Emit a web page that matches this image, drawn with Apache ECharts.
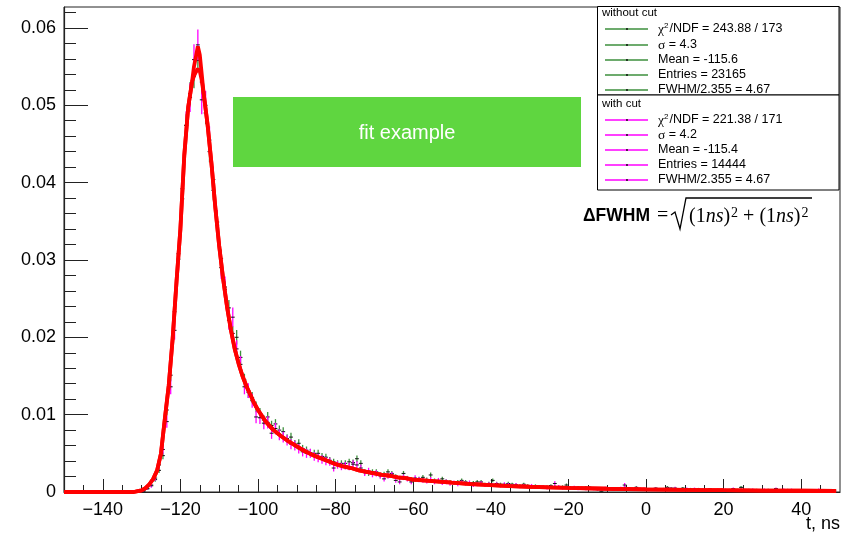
<!DOCTYPE html>
<html>
<head>
<meta charset="utf-8">
<script src="https://cdn.jsdelivr.net/npm/echarts/dist/echarts.min.js"></script>
<style>
html,body{margin:0;padding:0;background:#fff;}
#chart{width:853px;height:534px;}
</style>
</head>
<body>
<div id="chart"></div>
<script>
// ---------------- DATA ----------------
// histogram bins: 1 ns wide, first bin centre at -129.5 ns
const binStart = -129.5;
const binWidth = 1;

// "without cut" (green) normalised counts per bin
const greenValues = [
  0.0002,0.0004,0.0009,0.0016,0.0028,0.0047,0.0106,0.0151,0.0233,0.0308,
  0.0392,0.0474,0.0515,0.0537,0.0558,0.0530,0.0490,0.0440,0.0390,0.0345,
  0.0302,0.0262,0.0238,0.0205,0.0200,0.0174,0.0145,0.0129,0.0122,0.0110,
  0.0102,0.0093,0.0097,0.0086,0.0088,0.0080,0.0078,0.0069,0.0071,0.0062,
  0.0063,0.0056,0.0054,0.0051,0.0050,0.0050,0.0046,0.0045,0.0041,0.0039,
  0.0037,0.0037,0.0037,0.0039,0.0038,0.0043,0.0037,0.0026,0.0024,0.0026,
  0.0026,0.0022,0.0023,0.0026,0.0024,0.0020,0.0018,0.0024,0.0018,0.0016,
  0.0016,0.0017,0.0019,0.0016,0.0022,0.0015,0.0014,0.0017,0.0014,0.0013,
  0.0012,0.0013,0.0015,0.0013,0.0011,0.0012,0.0013,0.0013,0.0010,0.0011,
  0.0015,0.0011,0.0010,0.0009,0.0011,0.0010,0.0009,0.0008,0.0010,0.0008,
  0.0007,0.0008,0.0007,0.0006,0.0007,0.0008,0.0007,0.0006,0.0007,0.0009,
  0.0006,0.0005,0.0006,0.0005,0.0006,0.0006,0.0005,0.0004,0.0001,0.0004,
  0.0005,0.0004,0.0005,0.0004,0.0006,0.0005,0.0004,0.0006,0.0004,0.0003,
  0.0004,0.0004,0.0005,0.0003,0.0004,0.0006,0.0005,0.0004,0.0003,0.0005,
  0.0003,0.0004,0.0003,0.0004,0.0002,0.0003,0.0004,0.0003,0.0002,0.0003,
  0.0002,0.0003,0.0004,0.0003,0.0006,0.0002,0.0003,0.0002,0.0003,0.0002,
  0.0002,0.0003,0.0002,0.0004,0.0002,0.0002,0.0003,0.0002,0.0002,0.0001,
  0.0002,0.0002,0.0001,0.0002,0.0002,0.0001,0.0002,0.0001,0.0002
];
// its statistical errors, in units of 1e-4
const greenErrors = [
  0.9,1.3,2.0,2.6,3.5,4.5,6.8,8.1,10.0,11.5,
  13.0,14.3,14.9,15.2,15.5,15.1,14.5,13.8,13.0,12.2,
  11.4,10.6,10.1,9.4,9.3,8.7,7.9,7.5,7.3,6.9,
  6.6,6.3,6.5,6.1,6.2,5.9,5.8,5.5,5.5,5.2,
  5.2,4.9,4.8,4.7,4.6,4.6,4.5,4.4,4.2,4.1,
  4.0,4.0,4.0,4.1,4.1,4.3,4.0,3.4,3.2,3.4,
  3.4,3.1,3.2,3.4,3.2,2.9,2.8,3.2,2.8,2.6,
  2.6,2.7,2.9,2.6,3.1,2.5,2.5,2.7,2.5,2.4,
  2.3,2.4,2.5,2.4,2.2,2.3,2.4,2.4,2.1,2.2,
  2.5,2.2,2.1,2.0,2.2,2.1,2.0,1.9,2.1,1.9,
  1.7,1.9,1.7,1.6,1.7,1.9,1.7,1.6,1.7,2.0,
  1.6,1.5,1.6,1.5,1.6,1.6,1.5,1.3,0.7,1.3,
  1.5,1.3,1.5,1.3,1.6,1.5,1.3,1.6,1.3,1.1,
  1.3,1.3,1.5,1.1,1.3,1.6,1.5,1.3,1.1,1.5,
  1.1,1.3,1.1,1.3,0.9,1.1,1.3,1.1,0.9,1.1,
  0.9,1.1,1.3,1.1,1.6,0.9,1.1,0.9,1.1,0.9,
  0.9,1.1,0.9,1.3,0.9,0.9,1.1,0.9,0.9,0.7,
  0.9,0.9,0.7,0.9,0.9,0.7,0.9,0.7,0.9
];

// "with cut" (magenta) normalised counts per bin
const magentaValues = [
  0.0001,0.0005,0.0008,0.0018,0.0035,0.0055,0.0091,0.0136,0.0209,0.0301,
  0.0379,0.0474,0.0510,0.0559,0.0578,0.0507,0.0500,0.0455,0.0404,0.0349,
  0.0290,0.0265,0.0222,0.0226,0.0185,0.0165,0.0136,0.0131,0.0118,0.0097,
  0.0096,0.0089,0.0090,0.0076,0.0082,0.0074,0.0071,0.0067,0.0062,0.0060,
  0.0056,0.0052,0.0050,0.0050,0.0046,0.0044,0.0042,0.0040,0.0039,0.0031,
  0.0035,0.0033,0.0034,0.0033,0.0036,0.0035,0.0031,0.0025,0.0027,0.0023,
  0.0024,0.0021,0.0017,0.0021,0.0022,0.0015,0.0013,0.0019,0.0017,0.0013,
  0.0018,0.0016,0.0015,0.0014,0.0016,0.0013,0.0015,0.0012,0.0013,0.0011,
  0.0012,0.0010,0.0012,0.0011,0.0012,0.0009,0.0010,0.0011,0.0009,0.0010,
  0.0009,0.0010,0.0008,0.0010,0.0009,0.0008,0.0009,0.0007,0.0008,0.0007,
  0.0008,0.0006,0.0007,0.0007,0.0005,0.0006,0.0011,0.0007,0.0005,0.0006,
  0.0005,0.0006,0.0004,0.0005,0.0004,0.0005,0.0004,0.0003,0.0003,0.0005,
  0.0004,0.0003,0.0004,0.0005,0.0009,0.0004,0.0003,0.0005,0.0004,0.0004,
  0.0003,0.0003,0.0004,0.0003,0.0003,0.0004,0.0004,0.0005,0.0003,0.0003,
  0.0004,0.0002,0.0004,0.0003,0.0003,0.0002,0.0003,0.0002,0.0003,0.0002,
  0.0003,0.0002,0.0004,0.0002,0.0003,0.0002,0.0002,0.0003,0.0001,0.0002,
  0.0003,0.0002,0.0002,0.0004,0.0002,0.0003,0.0002,0.0003,0.0002,0.0002,
  0.0002,0.0001,0.0002,0.0002,0.0003,0.0002,0.0001,0.0002,0.0001
];
const magentaErrors = [
  0.8,1.9,2.4,3.5,4.9,6.2,7.9,9.7,12.0,14.4,
  16.2,18.1,18.8,19.7,20.0,18.7,18.6,17.7,16.7,15.5,
  14.2,13.5,12.4,12.5,11.3,10.7,9.7,9.5,9.0,8.2,
  8.2,7.8,7.9,7.3,7.5,7.2,7.0,6.8,6.6,6.4,
  6.2,6.0,5.9,5.9,5.6,5.5,5.4,5.3,5.2,4.6,
  4.9,4.8,4.9,4.8,5.0,4.9,4.6,4.2,4.3,4.0,
  4.1,3.8,3.4,3.8,3.9,3.2,3.0,3.6,3.4,3.0,
  3.5,3.3,3.2,3.1,3.3,3.0,3.2,2.9,3.0,2.8,
  2.9,2.6,2.9,2.8,2.9,2.5,2.6,2.8,2.5,2.6,
  2.5,2.6,2.4,2.6,2.5,2.4,2.5,2.2,2.4,2.2,
  2.4,2.0,2.2,2.2,1.9,2.0,2.8,2.2,1.9,2.0,
  1.9,2.0,1.7,1.9,1.7,1.9,1.7,1.4,1.4,1.9,
  1.7,1.4,1.7,1.9,2.5,1.7,1.4,1.9,1.7,1.7,
  1.4,1.4,1.7,1.4,1.4,1.7,1.7,1.9,1.4,1.4,
  1.7,1.2,1.7,1.4,1.4,1.2,1.4,1.2,1.4,1.2,
  1.4,1.2,1.7,1.2,1.4,1.2,1.2,1.4,0.8,1.2,
  1.4,1.2,1.2,1.7,1.2,1.4,1.2,1.4,1.2,1.2,
  1.2,0.8,1.2,1.2,1.4,1.2,0.8,1.2,0.8
];

// fitted curves (red), sampled in t
const fitT = [-150,-132,-131,-130,-129,-128,-127,-126,-125,-124,-123,-122,-121,-120,-119,-118,-117,-116.5,-116,-115.5,-115,-114.5,-114,-113,-112,-111,-110,-109,-108,-107,-106,-105,-104,-103,-102,-101,-100,-98,-96,-94,-92,-90,-88,-86,-84,-82,-80,-78,-76,-74,-72,-70,-68,-66,-64,-62,-60,-55,-50,-45,-40,-35,-30,-25,-20,-10,0,10,20,30,40,49];
const fitMagenta = [0,0,0.0001,0.0002,0.0005,0.0010,0.0017,0.0028,0.0050,0.0095,0.0138,0.0198,0.0272,0.0340,0.0435,0.0497,0.0530,0.0550,0.0563,0.0576,0.0565,0.0540,0.0515,0.0475,0.0425,0.0368,0.0318,0.0276,0.0240,0.0210,0.0185,0.0166,0.0150,0.0137,0.0126,0.0115,0.0106,0.0091,0.0080,0.0072,0.0065,0.0059,0.0053,0.0048,0.0044,0.0040,0.0036,0.0033,0.0031,0.0028,0.0026,0.0024,0.0022,0.0021,0.0019,0.0018,0.0016,0.0014,0.0012,0.00102,0.00088,0.00077,0.00068,0.0006,0.00053,0.00042,0.00034,0.00028,0.00023,0.00019,0.00016,0.00013];
const fitGreen   = [0,0,0.0001,0.0002,0.0005,0.0010,0.0017,0.0028,0.0050,0.0095,0.0138,0.0198,0.0272,0.0340,0.0435,0.0497,0.0530,0.0538,0.0543,0.0547,0.0544,0.0532,0.0515,0.0475,0.0425,0.0368,0.0318,0.0276,0.0240,0.0210,0.0185,0.0166,0.0150,0.0137,0.0126,0.0115,0.0106,0.0091,0.0080,0.0072,0.0065,0.0059,0.0053,0.0048,0.0044,0.0040,0.0036,0.0033,0.0031,0.0028,0.0026,0.0024,0.0022,0.0021,0.0019,0.0018,0.0016,0.0014,0.0012,0.00102,0.00088,0.00077,0.00068,0.0006,0.00053,0.00042,0.00034,0.00028,0.00023,0.00019,0.00016,0.00013];

// axis ticks
const xTickLabels = [-140,-120,-100,-80,-60,-40,-20,0,20,40];
const xMinorTicks = [-145,-135,-130,-125,-115,-110,-105,-95,-90,-85,-75,-70,-65,-55,-50,-45,-35,-30,-25,-15,-10,-5,5,10,15,25,30,35,45];
const yTickLabels = [0,0.01,0.02,0.03,0.04,0.05,0.06];
const yMinorTicks = [0.002,0.004,0.006,0.008,0.012,0.014,0.016,0.018,0.022,0.024,0.026,0.028,0.032,0.034,0.036,0.038,0.042,0.044,0.046,0.048,0.052,0.054,0.056,0.058,0.062];

// legend / annotation texts
const legendTitleWithout = 'without cut';
const legendRowsWithout = ['{sym|χ}{sup|2}/NDF = 243.88 / 173','{sym|σ} = 4.3','Mean = -115.6','Entries = 23165','FWHM/2.355 = 4.67'];
const legendTitleWith = 'with cut';
const legendRowsWith = ['{sym|χ}{sup|2}/NDF = 221.38 / 171','{sym|σ} = 4.2','Mean = -115.4','Entries = 14444','FWHM/2.355 = 4.67'];
const boxText = 'fit example';
const xAxisTitle = 't, ns';

// ---------------- CHART ----------------
const GREEN = '#3c8f3c';
const MAGENTA = '#ff00ff';
const FONT = '"Liberation Sans", Arial, Helvetica, sans-serif';
const SERIF = '"Liberation Serif", "Times New Roman", serif';

const greenData = greenValues.map((v, i) => [binStart + i * binWidth, v, greenErrors[i]]);
const magentaData = magentaValues.map((v, i) => [binStart + i * binWidth, v, magentaErrors[i]]);
const fitGreenData = fitT.map((t, i) => [t, fitGreen[i]]);
const fitMagentaData = fitT.map((t, i) => [t, fitMagenta[i]]);

function errRender(color) {
  return function (params, api) {
    const t = api.value(0), v = api.value(1), e = api.value(2) * 1e-4;
    const top = api.coord([t, v + e]);
    const bot = api.coord([t, Math.max(v - e, 0)]);
    const l = api.coord([t - 0.5 * binWidth, v]);
    const r = api.coord([t + 0.5 * binWidth, v]);
    return {
      type: 'group',
      children: [
        { type: 'line', shape: { x1: top[0], y1: top[1], x2: bot[0], y2: bot[1] }, style: { stroke: color, lineWidth: 1.3 } },
        { type: 'line', shape: { x1: l[0], y1: l[1], x2: r[0], y2: r[1] }, style: { stroke: '#111', lineWidth: 1 } }
      ]
    };
  };
}

// legend graphic
const LX0 = 597.5, LX1 = 839;
const rowsY1 = [29, 45, 60, 75, 90];
const rowsY2 = [120, 135, 150, 165, 180];
const rich = {
  sym: { fontFamily: SERIF, fontSize: 13.5, fill: '#000' },
  sup: { fontFamily: FONT, fontSize: 8, fill: '#000', verticalAlign: 'top', padding: [0, 1, 6, 0] }
};
function legendRows(rows, ys, color) {
  const els = [];
  rows.forEach((txt, i) => {
    const y = ys[i];
    els.push({ type: 'line', shape: { x1: 605, y1: y, x2: 648, y2: y }, style: { stroke: color, lineWidth: 1.5 }, z: 101 });
    els.push({ type: 'circle', shape: { cx: 627, cy: y, r: 0.9 }, style: { fill: '#000' }, z: 102 });
    els.push({ type: 'text', x: 658, y: y, z: 102, style: { text: txt, rich: rich, fontSize: 12.5, fontFamily: FONT, fill: '#000', verticalAlign: 'middle', align: 'left' } });
  });
  return els;
}

const graphics = [
  // green label box
  { type: 'rect', shape: { x: 233, y: 97, width: 348, height: 70 }, style: { fill: '#5fd640' }, z: 50 },
  { type: 'text', x: 407, y: 133, z: 51, style: { text: boxText, fontSize: 20, fontFamily: FONT, fill: '#fff', align: 'center', verticalAlign: 'middle' } },
  // legend boxes
  { type: 'rect', shape: { x: LX0, y: 6.5, width: LX1 - LX0, height: 88.5 }, style: { fill: '#fff', stroke: '#000', lineWidth: 1 }, z: 100 },
  { type: 'rect', shape: { x: LX0, y: 95, width: LX1 - LX0, height: 95 }, style: { fill: '#fff', stroke: '#000', lineWidth: 1 }, z: 100 },
  { type: 'text', x: 602, y: 13, z: 102, style: { text: legendTitleWithout, fontSize: 11.5, fontFamily: FONT, fill: '#000', verticalAlign: 'middle' } },
  { type: 'text', x: 602, y: 104, z: 102, style: { text: legendTitleWith, fontSize: 11.5, fontFamily: FONT, fill: '#000', verticalAlign: 'middle' } },
  ...legendRows(legendRowsWithout, rowsY1, GREEN),
  ...legendRows(legendRowsWith, rowsY2, MAGENTA),
  // ΔFWHM formula
  { type: 'text', x: 583, y: 216, z: 60, style: { text: 'ΔFWHM', fontSize: 17.5, fontWeight: 'bold', fontFamily: FONT, fill: '#000', verticalAlign: 'middle' } },
  { type: 'text', x: 657, y: 216, z: 60, style: { text: '=', fontSize: 20, fontFamily: SERIF, fill: '#000', verticalAlign: 'middle' } },
  { type: 'polyline', z: 60, shape: { points: [[671, 215], [675, 212], [680, 229], [686, 198], [812, 198]] }, style: { stroke: '#000', lineWidth: 1.3, fill: null } },
  { type: 'text', x: 689, y: 217, z: 60, style: {
      text: '(1{i|ns}){s|2} + (1{i|ns}){s|2}',
      fontSize: 20, fontFamily: SERIF, fill: '#000', verticalAlign: 'middle',
      rich: {
        i: { fontSize: 20, fontFamily: SERIF, fontStyle: 'italic', fill: '#000' },
        s: { fontSize: 14, fontFamily: SERIF, fill: '#000', verticalAlign: 'top', padding: [0, 0, 8, 1] }
      }
  } },
  // x axis title
  { type: 'text', x: 840, y: 515, z: 60, style: { text: xAxisTitle, fontSize: 18, fontFamily: FONT, fill: '#000', align: 'right', verticalAlign: 'top' } }
];

const chart = echarts.init(document.getElementById('chart'), null, { renderer: 'canvas' });
chart.setOption({
  animation: false,
  backgroundColor: '#fff',
  grid: { left: 64, top: 7, right: 13, bottom: 42, show: true, borderColor: '#222', borderWidth: 1, backgroundColor: 'transparent' },
  xAxis: [
    {
      type: 'value', min: -150, max: 50,
      axisLine: { show: true, onZero: false, lineStyle: { color: '#222', width: 1.2 } },
      axisTick: { show: true, inside: true, length: 13, customValues: xTickLabels, lineStyle: { color: '#222', width: 1 } },
      axisLabel: { show: true, customValues: xTickLabels, margin: 9, fontSize: 18, fontFamily: FONT, color: '#000',
        formatter: v => String(v).replace('-', '\u2212') },
      splitLine: { show: false }
    },
    {
      type: 'value', min: -150, max: 50, position: 'bottom',
      axisLine: { show: false, onZero: false },
      axisTick: { show: true, inside: true, length: 7, customValues: xMinorTicks, lineStyle: { color: '#222', width: 1 } },
      axisLabel: { show: false },
      splitLine: { show: false }
    }
  ],
  yAxis: [
    {
      type: 'value', min: 0, max: 0.0627,
      axisLine: { show: true, onZero: false, lineStyle: { color: '#222', width: 1.2 } },
      axisTick: { show: true, inside: true, length: 24, customValues: yTickLabels, lineStyle: { color: '#222', width: 1 } },
      axisLabel: { show: true, customValues: yTickLabels, margin: 8, fontSize: 18, fontFamily: FONT, color: '#000',
        formatter: v => (v === 0 ? '0' : v.toFixed(2)) },
      splitLine: { show: false }
    },
    {
      type: 'value', min: 0, max: 0.0627, position: 'left',
      axisLine: { show: false, onZero: false },
      axisTick: { show: true, inside: true, length: 12, customValues: yMinorTicks, lineStyle: { color: '#222', width: 1 } },
      axisLabel: { show: false },
      splitLine: { show: false }
    }
  ],
  series: [
    { name: 'without cut', type: 'custom', renderItem: errRender(GREEN), data: greenData, encode: { x: 0, y: 1 }, z: 2, clip: true },
    { name: 'with cut', type: 'custom', renderItem: errRender(MAGENTA), data: magentaData, encode: { x: 0, y: 1 }, z: 3, clip: true },
    { name: 'fit without cut', type: 'line', data: fitGreenData, showSymbol: false, symbol: 'none', lineStyle: { color: '#ff0000', width: 3.8 }, z: 5, clip: true },
    { name: 'fit with cut', type: 'line', data: fitMagentaData, showSymbol: false, symbol: 'none', lineStyle: { color: '#ff0000', width: 3.8 }, z: 5, clip: true }
  ],
  graphic: graphics
});
</script>
</body>
</html>
